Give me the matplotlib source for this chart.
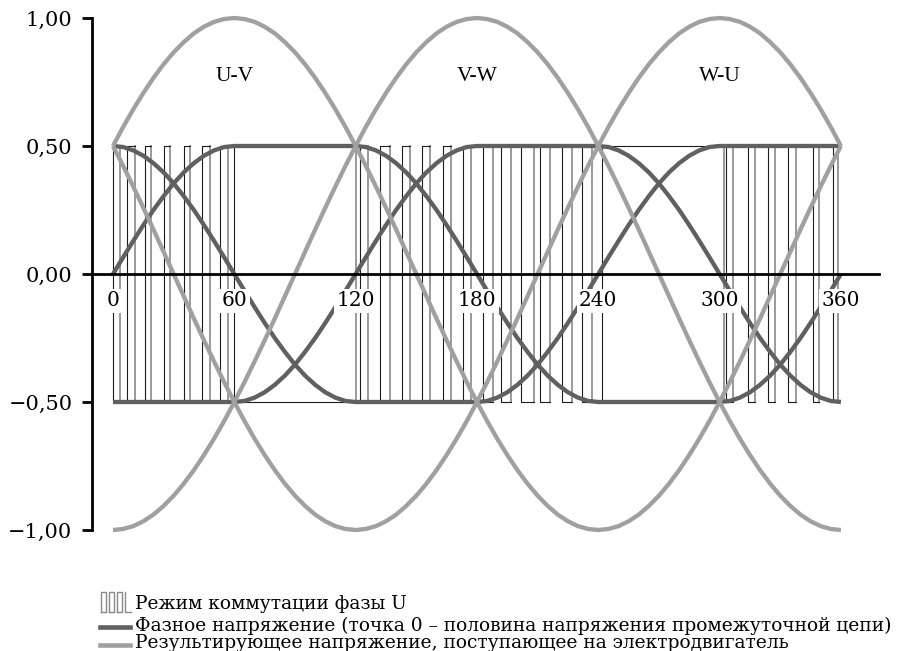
import matplotlib
matplotlib.use("Agg")
import matplotlib.pyplot as plt
from matplotlib.lines import Line2D

W, H = 904, 651

# ---- data (every 5 deg) ----
angles = list(range(0, 361, 5))
# U-V line voltage; V-W and W-U are the same curve moved by 120 / 240 deg
result_uv = [0.500, 0.574, 0.643, 0.707, 0.766, 0.819, 0.866, 0.906, 0.940, 0.966, 0.985, 0.996,
             1.000, 0.996, 0.985, 0.966, 0.940, 0.906, 0.866, 0.819, 0.766, 0.707, 0.643, 0.574,
             0.500, 0.423, 0.342, 0.259, 0.174, 0.087, 0.000, -0.087, -0.174, -0.259, -0.342, -0.423,
             -0.500, -0.574, -0.643, -0.707, -0.766, -0.819, -0.866, -0.906, -0.940, -0.966, -0.985, -0.996,
             -1.000, -0.996, -0.985, -0.966, -0.940, -0.906, -0.866, -0.819, -0.766, -0.707, -0.643, -0.574,
             -0.500, -0.423, -0.342, -0.259, -0.174, -0.087, 0.000, 0.087, 0.174, 0.259, 0.342, 0.423,
             0.500]
# phase U voltage; V and W shifted the same way
phase_u = [0.000, 0.065, 0.129, 0.191, 0.250, 0.304, 0.354, 0.397, 0.433, 0.462, 0.483, 0.496,
           0.500, 0.500, 0.500, 0.500, 0.500, 0.500, 0.500, 0.500, 0.500, 0.500, 0.500, 0.500,
           0.500, 0.496, 0.483, 0.462, 0.433, 0.397, 0.354, 0.304, 0.250, 0.191, 0.129, 0.065,
           0.000, -0.065, -0.129, -0.191, -0.250, -0.304, -0.354, -0.397, -0.433, -0.462, -0.483, -0.496,
           -0.500, -0.500, -0.500, -0.500, -0.500, -0.500, -0.500, -0.500, -0.500, -0.500, -0.500, -0.500,
           -0.500, -0.496, -0.483, -0.462, -0.433, -0.397, -0.354, -0.304, -0.250, -0.191, -0.129, -0.065,
           0.000]

# switching pulses of phase U (start / end, deg)
pulse_on = [0, 7, 16, 25, 35, 44, 53, 60, 122, 132, 143, 153, 163, 173, 183, 192, 202, 211,
            222, 232, 242, 303, 314, 324, 334, 346, 356]
pulse_off = [3.5, 11, 19, 28, 38, 48, 57, 120, 126, 137, 147, 157, 167, 177, 188, 197, 208,
             216, 227, 237, 302, 306.5, 317.5, 327.5, 338, 349, 358.5]

x_ticks = [0, 60, 120, 180, 240, 300, 360]
y_ticks = [-1.0, -0.5, 0.0, 0.5, 1.0]
y_labels = ["\u22121,00", "\u22120,50", "0,00", "0,50", "1,00"]
pair_names = ["U-V", "V-W", "W-U"]
pair_pos = [60, 180, 300]

legend_labels = ["Режим коммутации фазы U",
                 "Фазное напряжение (точка 0 \u2013 половина напряжения промежуточной цепи)",
                 "Результирующее напряжение, поступающее на электродвигатель"]

LIGHT = "#a0a0a0"
DARK = "#606060"


def shift(series, steps):
    s = series[:-1]
    r = s[-steps:] + s[:-steps]
    return r + [r[0]]


fig = plt.figure(figsize=(W / 100, H / 100), dpi=100)
ax = fig.add_axes([92 / W, 121 / H, 790 / W, 512 / H])
x0 = (92 - 113) / 2.022
x1 = (882 - 113) / 2.022
ax.set_xlim(x0, x1)
ax.set_ylim(-1, 1)
for s in ("top", "right", "bottom"):
    ax.spines[s].set_visible(False)
ax.spines["left"].set_linewidth(2)
ax.set_xticks([])
ax.set_yticks(y_ticks)
ax.set_yticklabels(y_labels, family="DejaVu Serif", fontsize=15)
ax.tick_params(axis="y", direction="out", length=7, width=2, pad=7)

# pulses: black left/top/bottom edge, grey trailing edge
for a, b in zip(pulse_on, pulse_off):
    ax.plot([b, a, a, b], [0.5, 0.5, -0.5, -0.5], color="#1c1c1c", lw=0.8, zorder=1.2)
    ax.plot([b, b], [-0.5, 0.5], color="#9a9a9a", lw=1.4, zorder=1)

# phase voltages
for k in (0, 24, 48):
    ax.plot(angles, shift(phase_u, k) if k else phase_u, color=DARK, lw=3.1,
            solid_capstyle="butt", zorder=2)

# resulting line voltages
for k in (0, 24, 48):
    ax.plot(angles, shift(result_uv, k) if k else result_uv, color=LIGHT, lw=3.1,
            solid_capstyle="butt", zorder=3, clip_on=False)

# zero axis
ax.plot([x0, 379], [0, 0], color="black", lw=2, zorder=4, clip_on=False)
for t in x_ticks:
    ax.text(t, -0.105, str(t), ha="center", va="center", fontsize=14.5, family="DejaVu Serif",
            zorder=6, bbox=dict(boxstyle="square,pad=0.12", fc="white", ec="none"))

for name, p in zip(pair_names, pair_pos):
    ax.text(p, 0.77, name, ha="center", va="center", fontsize=15.5, family="Liberation Serif",
            zorder=6)


# legend (figure pixels)
def fx(px):
    return px / W


def fy(py):
    return 1 - py / H


# pulse icon
for xl in (101, 109, 117):
    fig.add_artist(Line2D([fx(xl), fx(xl), fx(xl + 5), fx(xl + 5), fx(xl)],
                          [fy(612), fy(592), fy(592), fy(612), fy(612)],
                          color="#8a8a8a", lw=1.0))
fig.add_artist(Line2D([fx(125), fx(125), fx(131)], [fy(592), fy(612), fy(612)],
                      color="#8a8a8a", lw=1.0))
fig.add_artist(Line2D([fx(100), fx(130)], [fy(627), fy(627)], color=DARK, lw=3.3))
fig.add_artist(Line2D([fx(100), fx(130)], [fy(645), fy(645)], color=LIGHT, lw=3.3))

for lab, py in zip(legend_labels, (609, 631, 648)):
    fig.text(fx(135), fy(py), lab, ha="left", va="baseline", fontsize=13.4,
             family="DejaVu Serif")

fig.savefig("out.png", dpi=100, facecolor="white")
